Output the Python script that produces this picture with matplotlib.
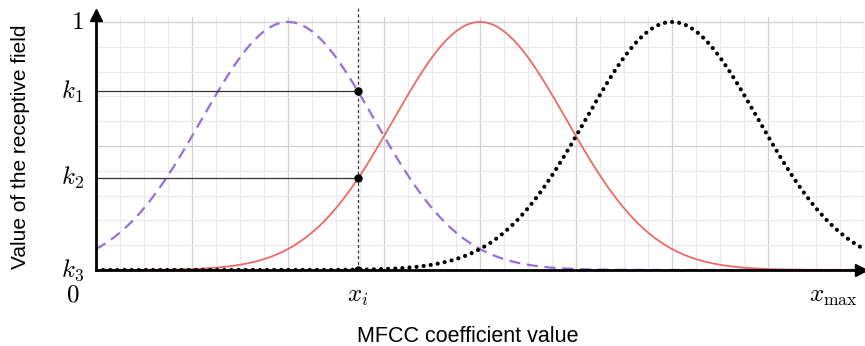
import numpy as np
import matplotlib.pyplot as plt
from matplotlib.ticker import MultipleLocator

plt.rcParams["mathtext.fontset"] = "cm"

# receptive field centres and width (in grid units)
centers = [2.0, 4.0, 6.0]
sigma = 0.9
x_i = 2.73
x_max = 8.0

colors = ["#9370db", "#ea6b66", "#000000"]


def gauss(x, c):
    return np.exp(-(x - c) ** 2 / (2 * sigma ** 2))


x = np.linspace(0, x_max, 600)
k1 = gauss(x_i, centers[0])
k2 = gauss(x_i, centers[1])
k3 = gauss(x_i, centers[2])

fig = plt.figure(figsize=(8.65, 3.46), dpi=100)
ax = fig.add_axes([96 / 865, 1 - 270 / 346, 768 / 865, 253 / 346])
ax.set_xlim(0, x_max)
ax.set_ylim(0, 1.02)

ax.xaxis.set_major_locator(MultipleLocator(1))
ax.xaxis.set_minor_locator(MultipleLocator(0.25))
ax.yaxis.set_major_locator(MultipleLocator(0.5))
ax.yaxis.set_minor_locator(MultipleLocator(0.1))
ax.grid(which="major", color="#cfcfcf", lw=0.9)
ax.grid(which="minor", color="#e8e8e8", lw=0.8)
ax.set_axisbelow(True)
ax.tick_params(which="both", length=0, labelbottom=False, labelleft=False)
for s in ax.spines.values():
    s.set_visible(False)

ax.plot(x, gauss(x, centers[0]), color=colors[0], lw=1.6,
        linestyle=(0, (5, 3)), zorder=3)
ax.plot(x, gauss(x, centers[1]), color=colors[1], lw=1.3, zorder=3)
ax.plot(x, gauss(x, centers[2]), color=colors[2], lw=3,
        linestyle=(0, (0.01, 1.7)), dash_capstyle="round", zorder=3)

# projections onto the y axis
ax.plot([0, x_i], [k1, k1], color="#333333", lw=0.9, zorder=4)
ax.plot([0, x_i], [k2, k2], color="#333333", lw=0.9, zorder=4)
ax.plot([x_i, x_i], [0, 1.06], color="#333333", lw=0.9,
        linestyle=(0, (2.5, 2)), clip_on=False, zorder=4)
ax.plot([x_i] * 3, [k1, k2, k3], "o", color="black", ms=5, zorder=5)

# axes with arrows
ax.plot([0, x_max - 0.02], [0, 0], color="black", lw=2, clip_on=False, zorder=6)
ax.plot([0, 0], [0, 1.02], color="black", lw=2, clip_on=False, zorder=6)
ax.plot([x_max - 0.03], [0], marker=">", color="black", ms=8, clip_on=False, zorder=6)
ax.plot([0], [1.03], marker="^", color="black", ms=8, clip_on=False, zorder=6)

# labels
fs = 18
lx = -0.13
ax.text(lx, 1.0, "$1$", fontsize=fs, ha="right", va="center")
ax.text(lx, k1, "$k_1$", fontsize=fs, ha="right", va="center")
ax.text(lx, k2, "$k_2$", fontsize=fs, ha="right", va="center")
ax.text(lx, 0.0, "$k_3$", fontsize=fs, ha="right", va="center")
ax.text(-0.24, -0.1, "$0$", fontsize=fs, ha="center", va="center")
ax.text(x_i, -0.105, "$x_i$", fontsize=fs, ha="center", va="center")
ax.text(7.68, -0.105, r"$x_{\max}$", fontsize=fs, ha="center", va="center")

fig.text(468 / 865, 1 - 337 / 346, "MFCC coefficient value",
         fontsize=15.5, family="Liberation Sans", ha="center", va="center")
fig.text(21 / 865, 1 - 147 / 346, "Value of the receptive field",
         fontsize=15, family="Liberation Sans", ha="center", va="center",
         rotation=90)

fig.savefig("out.png", dpi=100)
